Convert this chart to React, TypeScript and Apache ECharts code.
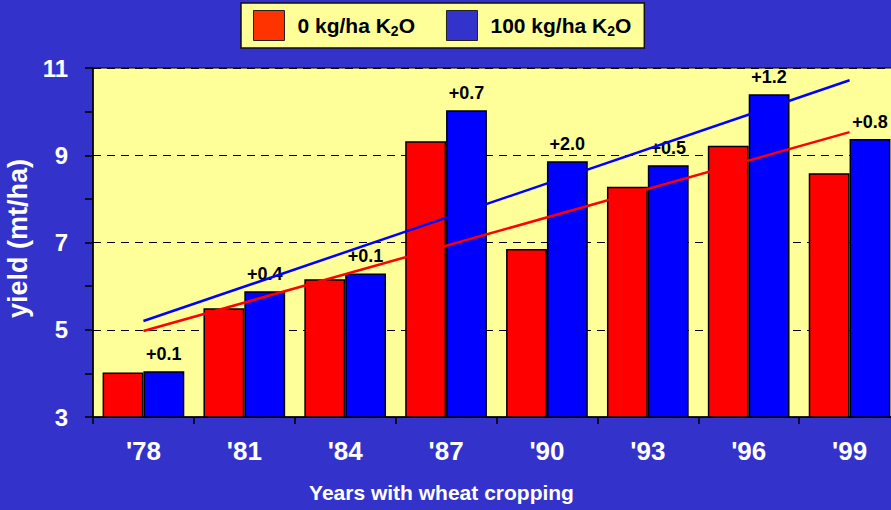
import React, { useEffect, useRef } from "react";
import * as echarts from "echarts";

const categories = ["'78", "'81", "'84", "'87", "'90", "'93", "'96", "'99"];
const yield0 = [4.02, 5.49, 6.16, 9.32, 6.85, 8.28, 9.22, 8.59];
const yield100 = [4.05, 5.88, 6.29, 10.03, 8.86, 8.77, 10.4, 9.37];
const gainLabels = ["+0.1", "+0.4", "+0.1", "+0.7", "+2.0", "+0.5", "+1.2", "+0.8"];
const trend0 = [4.97, 9.53];
const trend100 = [5.2, 10.72];
const yMin = 3;
const yMax = 11;
const yStep = 2;
const name0 = "0 kg/ha K2O";
const name100 = "100 kg/ha K2O";

const FONT = "'Liberation Sans', Arial, Helvetica, sans-serif";

function endpoints(pair: number[], n: number) {
  const arr: (number | null)[] = new Array(n).fill(null);
  arr[0] = pair[0];
  arr[n - 1] = pair[1];
  return arr;
}

export default function App() {
  const ref = useRef<HTMLDivElement>(null);
  useEffect(() => {
    document.body.style.margin = "0";
    document.body.style.background = "#3333CC";
    if (!ref.current) return;
    const chart = echarts.init(ref.current, null, { renderer: "svg" });
    chart.setOption({
      animation: false,
      backgroundColor: "#3333CC",
      textStyle: { fontFamily: FONT },
      legend: {
        left: 241,
        top: 3,
        padding: [7, 13, 7, 12],
        itemGap: 31,
        itemWidth: 31,
        itemHeight: 30,
        backgroundColor: "#FFFF99",
        borderColor: "#111",
        borderWidth: 1.5,
        borderRadius: 0,
        selectedMode: false,
        data: [
          { name: name0, icon: "rect", itemStyle: { color: "#FF3300", borderColor: "#222", borderWidth: 1 } },
          { name: name100, icon: "rect", itemStyle: { color: "#3333CC", borderColor: "#222", borderWidth: 1 } },
        ],
        formatter: (n: string) => {
          const base = n.slice(0, n.length - 2);
          return "{t|" + base + "}{s|2}{t|O}";
        },
        textStyle: {
          padding: [0, 0, 0, 8],
          rich: {
            t: { fontFamily: FONT, fontSize: 21, fontWeight: "bold", color: "#000", lineHeight: 24 },
            s: { fontFamily: FONT, fontSize: 14, fontWeight: "bold", color: "#000", lineHeight: 12, verticalAlign: "bottom" },
          },
        },
      },
      grid: {
        left: 93,
        top: 68,
        width: 807,
        height: 349,
        show: true,
        backgroundColor: "#FFFF99",
        borderColor: "#000",
        borderWidth: 1,
        containLabel: false,
        outerBoundsMode: "none",
      },
      xAxis: {
        type: "category",
        data: categories,
        boundaryGap: true,
        name: "Years with wheat cropping",
        nameLocation: "middle",
        nameGap: 65,
        nameTextStyle: { color: "#fff", fontSize: 21, fontWeight: "bold", fontFamily: FONT, padding: [0, 110, 0, 0] },
        axisLine: { show: true, lineStyle: { color: "#000", width: 1.5 } },
        axisTick: { show: true, length: 7, lineStyle: { color: "#000", width: 1.5 } },
        axisLabel: { color: "#fff", fontSize: 26, fontWeight: "bold", margin: 21, fontFamily: FONT },
      },
      yAxis: {
        type: "value",
        min: yMin,
        max: yMax,
        interval: yStep,
        name: "yield (mt/ha)",
        nameLocation: "middle",
        nameRotate: 90,
        nameGap: 54,
        nameTextStyle: { color: "#fff", fontSize: 27, fontWeight: "bold", fontFamily: FONT, padding: [0, 0, 0, 8] },
        axisLine: { show: true, lineStyle: { color: "#000", width: 1.5 } },
        axisTick: { show: true, length: 8, lineStyle: { color: "#000", width: 1.5 } },
        minorTick: { show: true, splitNumber: 2, length: 8, lineStyle: { color: "#000", width: 1.5 } },
        splitLine: { show: true, lineStyle: { color: "#000", width: 1, type: [8, 6] } },
        axisLabel: { color: "#fff", fontSize: 24, fontWeight: "bold", margin: 25, fontFamily: FONT },
      },
      series: [
        {
          name: name0,
          type: "bar",
          data: yield0,
          barGap: "0%",
          barCategoryGap: "19%",
          itemStyle: { color: "#FF0000", borderColor: "#000", borderWidth: 1.5 },
        },
        {
          name: name100,
          type: "bar",
          data: yield100,
          barGap: "0%",
          barCategoryGap: "19%",
          itemStyle: { color: "#0000FF", borderColor: "#000", borderWidth: 1.5 },
          label: {
            show: true,
            position: "top",
            distance: 8,
            color: "#000",
            fontSize: 18,
            fontWeight: "bold",
            fontFamily: FONT,
            formatter: (p: any) => gainLabels[p.dataIndex],
          },
        },
        {
          name: "trend0",
          type: "line",
          data: endpoints(trend0, categories.length),
          connectNulls: true,
          symbol: "none",
          lineStyle: { color: "#FF0000", width: 2.5 },
          z: 5,
        },
        {
          name: "trend100",
          type: "line",
          data: endpoints(trend100, categories.length),
          connectNulls: true,
          symbol: "none",
          lineStyle: { color: "#0000FF", width: 2.5 },
          z: 5,
        },
      ],
    });
    return () => chart.dispose();
  }, []);
  return <div ref={ref} style={{ width: 891, height: 510, background: "#3333CC" }} />;
}
